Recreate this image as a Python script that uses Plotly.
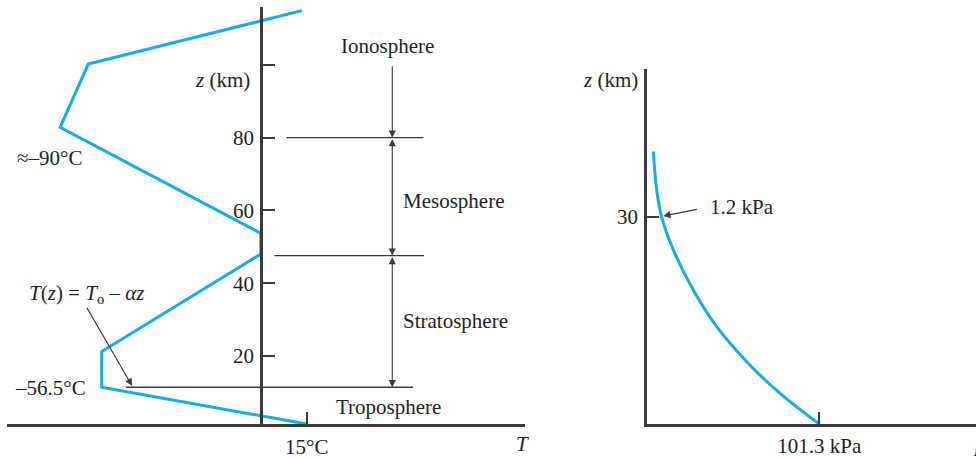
import plotly.graph_objects as go

W, H = 976, 458

# ---- data (schematic scales) ----
T_PROFILE = [15, -56.5, -56.5, -1, -1, -71, -61.2, 13.3]          # °C (drawn positions)
Z_PROFILE = [1.3, 11.4, 21.2, 48.0, 53.7, 82.8, 100.2, 114.9]     # km

Z_TICKS_LEFT = [20, 40, 60, 80, 100]
Z_TICKTEXT_LEFT = ["20", "40", "60", "80", ""]
T_TICKS = [15]
T_TICKTEXT = ["15°C"]

LAYER_NAMES = ["Tropopause", "Stratopause", "Mesopause"]
LAYER_Z = [11.4, 47.6, 80.0]
LAYER_T_START = [-48.0, 3.7, 8.0]
LAYER_T_END = [52.1, 55.9, 55.7]

P_CURVE = [101.3, 78.2, 58.6, 41.0, 27.2, 15.5, 8.6, 5.7, 3.7]        # kPa (drawn positions)
Z_CURVE = [0, 4.44, 9.02, 14.08, 19.39, 25.18, 29.96, 33.86, 39.41]   # km

Z_TICKS_RIGHT = [30]
P_TICKS = [101.3]
P_TICKTEXT = ["101.3 kPa"]

BLUE = "#12AEE6"
AX = "#3a3a3a"
TXT = "#231f20"
FONT = "Liberation Serif"
FS = 21


def px(x):
    return x / W


def py(y):
    return 1 - y / H


fig = go.Figure()

fig.add_trace(go.Scatter(x=T_PROFILE, y=Z_PROFILE, mode="lines",
                         line=dict(color=BLUE, width=3), xaxis="x", yaxis="y",
                         showlegend=False, hoverinfo="skip"))
fig.add_trace(go.Scatter(x=P_CURVE, y=Z_CURVE, mode="lines",
                         line=dict(color=BLUE, width=3, shape="spline", smoothing=1),
                         xaxis="x2", yaxis="y2", showlegend=False, hoverinfo="skip"))

shapes = []
for z, t0, t1 in zip(LAYER_Z, LAYER_T_START, LAYER_T_END):
    shapes.append(dict(type="line", xref="x", yref="y", x0=t0, x1=t1, y0=z, y1=z,
                       line=dict(color=AX, width=1.3), layer="below"))

ARROW_T = 44.85
ann = []


def arrow(x, y, ax, ay, xr="x", yr="y", side="end"):
    ann.append(dict(x=x, y=y, ax=ax, ay=ay, xref=xr, yref=yr, axref=xr, ayref=yr,
                    text="", showarrow=True, arrowhead=2, arrowsize=1.3, arrowwidth=1.1,
                    arrowcolor=AX, arrowside=side, standoff=0, startstandoff=0))


# Ionosphere arrow (100 -> 80)
arrow(ARROW_T, LAYER_Z[2], ARROW_T, 100)
# Mesosphere double arrow
arrow(ARROW_T, LAYER_Z[1], ARROW_T, LAYER_Z[2], side="end+start")
# Stratosphere double arrow
arrow(ARROW_T, LAYER_Z[0], ARROW_T, LAYER_Z[1], side="end+start")
# formula arrow
arrow(-45.9, 11.8, -62, 33.7)
# 1.2 kPa arrow
arrow(9.6, 30.1, 30.2, 31.1, xr="x2", yr="y2")


def label(text, x, y, xr="x", yr="y", xanchor="center", size=FS):
    ann.append(dict(x=x, y=y, xref=xr, yref=yr, text=text, showarrow=False,
                    xanchor=xanchor, yanchor="middle", font=dict(size=size, color=TXT, family=FONT)))


label("Ionosphere", 43.35, 105.2)
label("Mesosphere", 47.9, 62.7, xanchor="left")
label("Stratosphere", 47.9, 29.6, xanchor="left")
label("Troposphere", 43.7, 6.0)

label("<i>z</i> (km)", px(222), py(80), "paper", "paper")
label("≈–90°C", px(49), py(158), "paper", "paper")
label("–56.5°C", px(88), py(388), "paper", "paper", xanchor="right")
label("<i>T</i>(<i>z</i>) = <i>T</i><sub>o</sub> – <i>αz</i>", px(86.5), py(294), "paper", "paper")
label("<i>T</i>", px(522), py(444), "paper", "paper")

label("<i>z</i> (km)", px(610), py(80), "paper", "paper")
label("1.2 kPa", px(707.7), py(206.7), "paper", "paper", xanchor="left")
label("<i>p</i>", px(971), py(444), "paper", "paper", xanchor="left")

a, b = 263.7, 2.867
t_lo, t_hi = (7 - a) / b, (525 - a) / b

common = dict(showgrid=False, zeroline=False, showline=True, linecolor=AX, linewidth=2.5,
              ticks="inside", ticklen=12, tickwidth=2, tickcolor=AX,
              tickfont=dict(size=FS, color=TXT, family=FONT), fixedrange=True)

fig.update_layout(
    width=W, height=H, margin=dict(l=0, r=0, t=0, b=0),
    paper_bgcolor="white", plot_bgcolor="white",
    font=dict(family=FONT, size=FS, color=TXT),
    xaxis=dict(domain=[px(7), px(525)], range=[t_lo, t_hi], anchor="y",
               tickvals=T_TICKS, ticktext=T_TICKTEXT, ticklabelstandoff=2, **common),
    yaxis=dict(domain=[py(424), py(7)], range=[1.3, 115.9], anchor="free", position=px(261),
               tickvals=Z_TICKS_LEFT, ticktext=Z_TICKTEXT_LEFT, ticklabelstandoff=2, **common),
    xaxis2=dict(domain=[px(647), 1.0], range=[0, (976 - 647) / 1.701], anchor="y2",
                tickvals=P_TICKS, ticktext=P_TICKTEXT, ticklabelstandoff=1, **common),
    yaxis2=dict(domain=[py(424), py(69.3)], range=[0, (424 - 69.3) / 6.91], anchor="x2",
                tickvals=Z_TICKS_RIGHT, ticklabelstandoff=2, **common),
    shapes=shapes, annotations=ann, showlegend=False,
)

fig.write_html("out.html", config={"displayModeBar": False},
               post_script="document.body.style.margin='0';document.body.style.padding='0';")
